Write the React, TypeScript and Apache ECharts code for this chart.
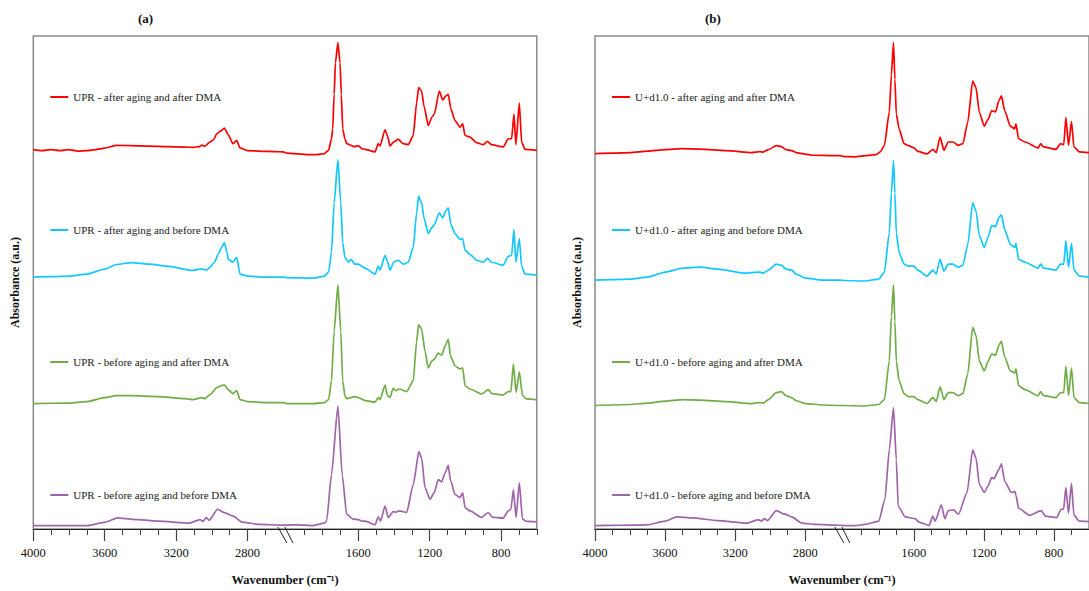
import { useEffect, useRef } from "react";
import * as echarts from "echarts";

// ---- axis definition (broken wavenumber axis) ----
const MAJOR_TICKS = [4000, 3600, 3200, 2800, 1600, 1200, 800];
const MINOR_TICKS = [3900, 3800, 3700, 3500, 3400, 3300, 3100, 3000, 2900, 2700, 1900, 1800, 1700, 1500, 1400, 1300, 1100, 1000, 900, 700, 600];
const HIGH_SEG_END = 2580; // left segment 4000 -> 2580
const LOW_SEG_START = 2000; // right segment 2000 -> 600
const LOW_END = 600;

const NAMES_A = [
  "UPR - after aging and after DMA",
  "UPR - after aging and before DMA",
  "UPR - before aging and after DMA",
  "UPR - before aging and before DMA",
];
const NAMES_B = [
  "U+d1.0 - after aging and after DMA",
  "U+d1.0 - after aging and before DMA",
  "U+d1.0 - before aging and after DMA",
  "U+d1.0 - before aging and before DMA",
];
const COLORS = ["#ff0000", "#14c8ff", "#70ad47", "#a064aa"];

// ---- spectra: [wavenumber, stacked absorbance (a.u.)] ----
const UPR_AA_AD = [
  [4000, 384], [3950, 383], [3900, 384], [3850, 383], [3800, 384], [3750, 382.5], [3700, 383], [3650, 384], [3600, 385.5], [3533, 388.3], [3450, 388], [3350, 387.5], [3250, 387], [3150, 386.5], [3106, 386.3], [3070, 387], [3057, 388.5], [3040, 387.5], [3010, 391.7], [2990, 394], [2973, 400], [2950, 403], [2930, 405.7], [2908, 399], [2882, 390], [2861, 393.3], [2842, 385.7], [2800, 383], [2714, 382.3], [2650, 382], [2600, 381.7],
  [2000, 380.5], [1881, 379], [1833, 379], [1790, 380], [1766, 383.3], [1750, 395], [1743, 405], [1735, 440], [1728, 471.7], [1714, 492.3], [1702, 472], [1695, 440], [1687, 405], [1675, 395], [1665, 390], [1620, 387], [1600, 388], [1580, 385], [1562, 384.3], [1506, 381.7], [1488, 390], [1478, 387.7], [1450, 404], [1437, 398.3], [1422, 387.7], [1402, 391.7], [1376, 394.3], [1348, 390], [1320, 389], [1292, 398.3], [1273, 431.7], [1262, 446.7], [1245, 443.3], [1232, 428.3], [1208, 408.3], [1188, 416.7], [1174, 420], [1146, 443.3], [1127, 434.3], [1109, 438.3], [1096, 440], [1081, 425], [1058, 413.3], [1030, 406.7], [1015, 410], [1002, 398.3], [974, 396.7], [937, 391], [900, 389], [877, 392.3], [853, 389], [788, 386.7], [760, 395], [741, 395], [728, 420], [717, 389], [698, 431], [685, 391.7], [666, 384.3], [600, 383.3],
];
const UPR_AA_BD = [
  [4000, 255], [3900, 255.5], [3800, 256], [3700, 258], [3600, 263], [3533, 267.7], [3450, 269.7], [3350, 268], [3250, 266], [3106, 261.7], [3057, 263.3], [3030, 262], [3010, 265], [2985, 270], [2964, 278.3], [2945, 285], [2930, 290], [2915, 280], [2908, 273], [2882, 270], [2861, 275], [2842, 258], [2800, 256], [2714, 255], [2600, 255],
  [2000, 254.5], [1850, 254], [1790, 256], [1766, 260], [1750, 280], [1735, 330], [1714, 374], [1698, 330], [1687, 290], [1675, 275], [1655, 270], [1640, 273], [1620, 268], [1600, 268], [1562, 264], [1506, 258], [1488, 266], [1478, 262], [1450, 277], [1437, 271], [1422, 262], [1402, 270], [1376, 272], [1348, 268], [1320, 270], [1292, 285], [1273, 320], [1262, 337], [1245, 330], [1232, 315], [1208, 299], [1188, 305], [1174, 308], [1146, 320], [1127, 315], [1109, 322], [1096, 325], [1081, 308], [1058, 299], [1030, 293], [1015, 294], [1002, 282], [974, 278], [937, 272], [900, 270], [877, 274], [853, 270], [788, 267], [760, 276], [741, 277], [728, 303], [717, 270], [698, 294], [685, 266], [666, 258], [600, 257],
];
const UPR_BA_AD = [
  [4000, 127], [3800, 127.5], [3700, 129], [3600, 133], [3533, 135], [3450, 135], [3300, 134], [3150, 132], [3106, 131], [3057, 133], [3040, 132], [3010, 136], [2973, 143], [2950, 145], [2930, 146], [2908, 141], [2882, 137], [2861, 140], [2842, 131], [2800, 129], [2700, 128], [2600, 128],
  [2000, 127], [1850, 127], [1790, 128], [1766, 131], [1750, 150], [1735, 200], [1714, 247], [1698, 200], [1687, 150], [1675, 135], [1665, 132], [1620, 134], [1600, 133], [1562, 130], [1506, 128.3], [1488, 133.3], [1478, 131], [1450, 145.7], [1437, 135], [1422, 133.3], [1404, 142.3], [1390, 140], [1370, 141.7], [1329, 139], [1292, 150], [1273, 190], [1262, 207], [1245, 202], [1226, 180], [1208, 163], [1188, 170], [1174, 172], [1152, 178], [1133, 176], [1114, 185], [1096, 192], [1083, 175], [1058, 165], [1030, 162], [1015, 163], [1002, 145], [974, 141.7], [909, 136.7], [872, 141], [850, 137], [788, 135.7], [760, 139], [745, 139], [731, 167], [716, 138.3], [698, 159], [680, 135], [658, 131.7], [600, 131],
];
const UPR_BA_BD = [
  [4000, 3.5], [3850, 3.5], [3695, 3.5], [3597, 7], [3528, 11.2], [3440, 9.8], [3300, 8], [3126, 6], [3066, 9.5], [3050, 7.7], [3031, 11.6], [3015, 8.8], [2968, 20], [2929, 16.5], [2880, 13], [2831, 7], [2733, 4.6], [2600, 4],
  [2000, 4], [1936, 4.2], [1857, 3.5], [1789, 6], [1777, 8.3], [1750, 55], [1714, 124.3], [1690, 55], [1665, 15], [1630, 10], [1595, 9.3], [1580, 8], [1560, 8], [1506, 4.3], [1488, 12.3], [1475, 8], [1450, 23.3], [1432, 11.7], [1404, 17.7], [1390, 17], [1370, 18.3], [1329, 16.7], [1292, 45], [1260, 78.3], [1245, 71.7], [1226, 41.7], [1198, 30], [1174, 37], [1152, 50], [1133, 47.7], [1114, 56.7], [1096, 64.3], [1083, 49], [1058, 35], [1030, 31.7], [1015, 36.7], [1002, 21.7], [974, 18.3], [909, 11.7], [872, 16.7], [850, 12], [788, 11], [760, 18.3], [745, 20], [731, 40], [716, 11.7], [698, 46.7], [680, 10], [658, 7.7], [600, 7.3],
];

const UD_AA_AD = [
  [4000, 380], [3900, 380.5], [3800, 381], [3700, 382.5], [3600, 384], [3500, 385], [3400, 384.5], [3250, 383], [3106, 381], [3060, 382], [3040, 381.5], [3010, 384], [2965, 388], [2936, 387], [2910, 384], [2877, 383], [2852, 381], [2800, 379.5], [2758, 378.3], [2650, 378], [2600, 378],
  [2000, 377], [1936, 376.7], [1814, 379], [1790, 382], [1768, 388.3], [1740, 422], [1728, 460], [1716, 492.3], [1708, 455], [1700, 420], [1684, 405], [1656, 390], [1630, 388], [1600, 385.7], [1577, 382.3], [1525, 379.7], [1491, 384.3], [1472, 381], [1450, 396.7], [1428, 383.3], [1404, 391.7], [1376, 391.7], [1348, 388.3], [1320, 390], [1292, 411.7], [1264, 453.3], [1245, 446.7], [1226, 421.7], [1198, 407.7], [1175, 415], [1156, 423.3], [1133, 422.3], [1115, 433.3], [1100, 438.3], [1081, 423.3], [1049, 407.7], [1024, 405], [1017, 410], [1002, 395], [965, 391.7], [890, 385.7], [876, 390], [860, 386.7], [788, 384.3], [763, 390], [744, 389], [732, 416.7], [717, 388.3], [700, 412.3], [686, 386.7], [655, 381.7], [600, 381],
];
const UD_AA_BD = [
  [4000, 252], [3800, 253], [3700, 255], [3600, 260], [3500, 264], [3400, 265], [3300, 263], [3150, 259], [3060, 260], [3040, 259], [3010, 262], [2965, 268], [2936, 267], [2910, 263], [2877, 262], [2852, 258], [2800, 254], [2700, 252], [2600, 252],
  [2000, 251.5], [1880, 251], [1800, 253], [1768, 260], [1740, 300], [1728, 340], [1716, 373], [1708, 340], [1700, 300], [1684, 280], [1656, 268], [1630, 266], [1600, 266], [1577, 262], [1525, 256], [1491, 262], [1472, 258], [1450, 273], [1428, 261], [1404, 268], [1376, 268], [1348, 265], [1320, 267], [1292, 288], [1264, 330], [1245, 322], [1226, 297], [1198, 285], [1175, 296], [1156, 307], [1133, 306], [1115, 315], [1100, 318], [1081, 303], [1049, 288], [1024, 285], [1017, 289], [1002, 273], [965, 270], [890, 264], [876, 268], [860, 264], [788, 262], [763, 268], [744, 268], [732, 292], [717, 265], [700, 289], [686, 262], [655, 256], [600, 255],
];
const UD_BA_AD = [
  [4000, 125], [3800, 126], [3700, 127.5], [3600, 129.5], [3500, 131], [3400, 130.5], [3250, 129], [3106, 127], [3060, 128], [3040, 127.5], [3010, 131], [2965, 138], [2936, 139], [2910, 135], [2877, 133], [2852, 130], [2800, 127], [2700, 125.5], [2600, 125],
  [2000, 125], [1880, 124.5], [1800, 126], [1768, 131], [1740, 170], [1728, 215], [1716, 247], [1708, 210], [1700, 170], [1684, 150], [1656, 137], [1630, 134], [1600, 134], [1577, 131], [1525, 127], [1491, 133], [1472, 129], [1450, 144], [1428, 131], [1404, 138], [1376, 138], [1348, 135], [1320, 137], [1292, 157], [1264, 204], [1245, 196], [1226, 170], [1198, 160], [1175, 170], [1156, 177], [1133, 176], [1115, 186], [1100, 190], [1081, 174], [1049, 160], [1024, 158], [1017, 162], [1002, 145], [965, 141], [890, 135], [876, 139], [860, 135], [788, 133], [763, 138], [744, 138], [732, 165], [717, 135], [700, 163], [686, 133], [655, 128], [600, 127],
];
const UD_BA_BD = [
  [4000, 3.5], [3850, 3.8], [3700, 4.2], [3600, 8], [3533, 12.3], [3445, 11.2], [3300, 8.5], [3132, 6], [3068, 9.5], [3050, 8], [3033, 10.5], [3015, 8.5], [2965, 18.6], [2916, 15], [2877, 12.3], [2819, 6], [2741, 4.6], [2600, 3.8],
  [2000, 3.5], [1937, 3.5], [1878, 4.6], [1800, 8], [1765, 30], [1740, 80], [1716, 123], [1700, 70], [1689, 23], [1649, 12.3], [1594, 10.5], [1570, 7], [1512, 3.5], [1492, 13], [1478, 8], [1443, 24.5], [1423, 10.5], [1403, 18.6], [1374, 19.3], [1345, 15], [1296, 37], [1264, 80], [1245, 72], [1226, 45], [1198, 37], [1175, 44], [1156, 52], [1142, 51], [1115, 60], [1100, 66], [1081, 48], [1043, 37], [1023, 38], [1017, 34], [1002, 21], [940, 14], [872, 18.6], [850, 13], [784, 11.6], [760, 20], [745, 20], [732, 42], [717, 16], [700, 46.2], [686, 14], [655, 8], [600, 7.5],
];

const SPECTRA_A = [UPR_AA_AD, UPR_AA_BD, UPR_BA_AD, UPR_BA_BD];
const SPECTRA_B = [UD_AA_AD, UD_AA_BD, UD_BA_AD, UD_BA_BD];

const HIGH_SPAN = 4000 - HIGH_SEG_END;
const toAxis = (w: number) => (w >= 2300 ? 4000 - w : HIGH_SPAN + (LOW_SEG_START - w));
const fromAxis = (u: number) => (u <= HIGH_SPAN ? 4000 - u : LOW_SEG_START - (u - HIGH_SPAN));
const AXIS_MAX = toAxis(LOW_END);

const FONT = "'Liberation Serif', 'Times New Roman', serif";
const PANEL_LEFTS = [33.3, 595];
const GRID_TOP = 36;
const GRID_W = 503.5;
const GRID_H = 499;
const LEGEND_CENTERS = [98, 231, 363, 496];

export default function App() {
  const ref = useRef<HTMLDivElement>(null);
  useEffect(() => {
    if (!ref.current) return;
    const chart = echarts.init(ref.current, null, { renderer: "svg" });
    const grids: any[] = [];
    const xAxes: any[] = [];
    const yAxes: any[] = [];
    const series: any[] = [];
    const legends: any[] = [];
    const panels = [
      { names: NAMES_A, spectra: SPECTRA_A },
      { names: NAMES_B, spectra: SPECTRA_B },
    ];
    panels.forEach((p, pi) => {
      grids.push({
        left: PANEL_LEFTS[pi], top: GRID_TOP, width: GRID_W, height: GRID_H,
        show: true, borderColor: "#8a8a8a", borderWidth: 1.5, backgroundColor: "transparent",
      });
      // major ticks + labels
      xAxes.push({
        type: "value", gridIndex: pi, min: 0, max: AXIS_MAX, position: "bottom",
        axisLine: { show: true, onZero: false, lineStyle: { color: "#222", width: 1.2 } },
        axisTick: { show: true, inside: false, length: 12, customValues: MAJOR_TICKS.map(toAxis), lineStyle: { color: "#444", width: 1.2 } },
        axisLabel: {
          show: true, inside: false, customValues: MAJOR_TICKS.map(toAxis), margin: 17,
          formatter: (v: number) => String(Math.round(fromAxis(v))),
          fontFamily: FONT, fontSize: 12.5, color: "#111",
        },
        splitLine: { show: false },
        name: "Wavenumber (cm⁻¹)", nameLocation: "middle", nameGap: 44,
        nameTextStyle: { fontFamily: FONT, fontSize: 12.5, fontWeight: "bold", color: "#111" },
      });
      // minor ticks
      xAxes.push({
        type: "value", gridIndex: pi, min: 0, max: AXIS_MAX, position: "bottom",
        axisLine: { show: false, onZero: false },
        axisTick: { show: true, inside: false, length: 6, customValues: MINOR_TICKS.map(toAxis), lineStyle: { color: "#444", width: 1 } },
        axisLabel: { show: false },
        splitLine: { show: false },
      });
      yAxes.push({
        type: "value", gridIndex: pi, min: 0, max: GRID_H,
        axisLine: { show: false }, axisTick: { show: false }, axisLabel: { show: false }, splitLine: { show: false },
        name: "Absorbance (a.u.)", nameLocation: "middle", nameGap: 12, nameRotate: 90,
        nameTextStyle: { fontFamily: FONT, fontSize: 12, fontWeight: "bold", color: "#111" },
      });
      p.spectra.forEach((s, si) => {
        series.push({
          name: p.names[si], type: "line", xAxisIndex: pi * 2, yAxisIndex: pi,
          data: s.map(([w, a]) => [toAxis(w), a]),
          showSymbol: false, symbol: "none", smooth: 0.2, smoothMonotone: "x",
          lineStyle: { color: COLORS[si], width: 1.7 }, itemStyle: { color: COLORS[si] },
          z: 3,
        });
        legends.push({
          left: PANEL_LEFTS[pi] + 17, top: LEGEND_CENTERS[si] - 6.5, padding: 0,
          data: [{ name: p.names[si], icon: "rect" }], selectedMode: false,
          itemWidth: 18, itemHeight: 2, itemGap: 4,
          textStyle: { fontFamily: FONT, fontSize: 11, color: "#222" },
        });
      });
    });

    chart.setOption({
      animation: false,
      backgroundColor: "#ffffff",
      title: [
        { text: "(a)", left: 138, top: 12, padding: 0, textStyle: { fontFamily: FONT, fontSize: 13, fontWeight: "bold", color: "#111" } },
        { text: "(b)", left: 705, top: 12, padding: 0, textStyle: { fontFamily: FONT, fontSize: 13, fontWeight: "bold", color: "#111" } },
      ],
      grid: grids, xAxis: xAxes, yAxis: yAxes, series, legend: legends,
    });

    // axis-break marks
    const graphics: any[] = [];
    [0, 1].forEach((pi) => {
      const cx = chart.convertToPixel({ xAxisIndex: pi * 2 }, HIGH_SPAN - 5) as number;
      const y0 = GRID_TOP + GRID_H;
      graphics.push({ type: "rect", shape: { x: cx - 3, y: y0 - 1.5, width: 3.5, height: 3 }, style: { fill: "#fff" }, z: 10 });
      graphics.push({ type: "line", shape: { x1: cx - 8, y1: y0 - 8, x2: cx + 1, y2: y0 + 8 }, style: { stroke: "#222", lineWidth: 1 }, z: 11 });
      graphics.push({ type: "line", shape: { x1: cx - 1, y1: y0 - 8, x2: cx + 7, y2: y0 + 8 }, style: { stroke: "#222", lineWidth: 1 }, z: 11 });
    });
    chart.setOption({ graphic: graphics });

    return () => chart.dispose();
  }, []);
  return <div ref={ref} style={{ position: "absolute", left: 0, top: 0, width: 1089, height: 591 }} />;
}
